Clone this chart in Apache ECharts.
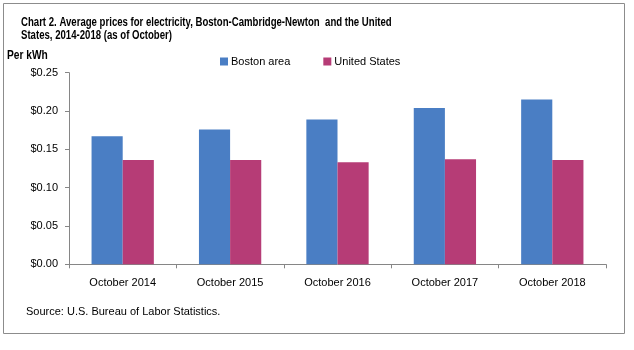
<!DOCTYPE html>
<html>
<head>
<meta charset="utf-8">
<script src="https://cdn.jsdelivr.net/npm/echarts@6/dist/echarts.min.js"></script>
<style>
  html, body { margin: 0; padding: 0; background: #fff; }
  #chart { width: 634px; height: 350px; }
</style>
</head>
<body>
<div id="chart"></div>
<script>
  // data
  var categories = ['October 2014', 'October 2015', 'October 2016', 'October 2017', 'October 2018']
  var bostonArea = [0.167, 0.176, 0.189, 0.204, 0.215]
  var unitedStates = [0.136, 0.136, 0.133, 0.137, 0.136]

  var chart = echarts.init(document.getElementById('chart'))
  chart.setOption({
    animation: false,
    legend: {
      data: ['Boston area', 'United States'],
      left: 215,
      top: 51,
      itemWidth: 8,
      itemHeight: 8,
      itemGap: 33,
      icon: 'rect',
      textStyle: {
        fontFamily: 'Liberation Sans',
        fontSize: 11,
        color: '#000',
        padding: [0, 0, 0, -2]
      }
    },
    grid: {
      left: 69,
      right: 28,
      top: 72.7,
      bottom: 85.7
    },
    xAxis: {
      type: 'category',
      data: categories,
      axisLine: { lineStyle: { color: '#868686', width: 1 } },
      axisTick: { show: true, length: 4, lineStyle: { color: '#868686' } },
      axisLabel: {
        fontFamily: 'Liberation Sans',
        fontSize: 11,
        color: '#000',
        margin: 13
      }
    },
    yAxis: {
      type: 'value',
      min: 0,
      max: 0.25,
      interval: 0.05,
      splitLine: { show: false },
      axisLine: { show: true, lineStyle: { color: '#868686', width: 1 } },
      axisTick: { show: true, length: 4, lineStyle: { color: '#868686' } },
      axisLabel: {
        fontFamily: 'Liberation Sans',
        fontSize: 11,
        color: '#000',
        margin: 11,
        formatter: function (v) { return '$' + v.toFixed(2) }
      }
    },
    graphic: [
      {
        type: 'rect',
        shape: { x: 3.5, y: 3.5, width: 621, height: 330 },
        style: { fill: 'none', stroke: '#8c8c8c', lineWidth: 1 }
      },
      {
        type: 'text',
        x: 21,
        y: 16,
        scaleX: 0.8,
        style: {
          text: 'Chart 2. Average prices for electricity, Boston-Cambridge-Newton  and the United\nStates, 2014-2018 (as of October)',
          font: 'bold 12px "Liberation Sans"',
          lineHeight: 13,
          fill: '#000'
        }
      },
      {
        type: 'text',
        x: 7,
        y: 50,
        scaleX: 0.85,
        style: {
          text: 'Per kWh',
          font: 'bold 12px "Liberation Sans"',
          fill: '#000'
        }
      },
      {
        type: 'text',
        x: 26,
        y: 306,
        style: {
          text: 'Source: U.S. Bureau of Labor Statistics.',
          font: '11px "Liberation Sans"',
          fill: '#000'
        }
      }
    ],
    series: [
      {
        name: 'Boston area',
        type: 'bar',
        data: bostonArea,
        barGap: '0%',
        barCategoryGap: '42%',
        itemStyle: { color: '#4a7ec4' }
      },
      {
        name: 'United States',
        type: 'bar',
        data: unitedStates,
        barGap: '0%',
        barCategoryGap: '42%',
        itemStyle: { color: '#b63c76' }
      }
    ]
  })
</script>
</body>
</html>
